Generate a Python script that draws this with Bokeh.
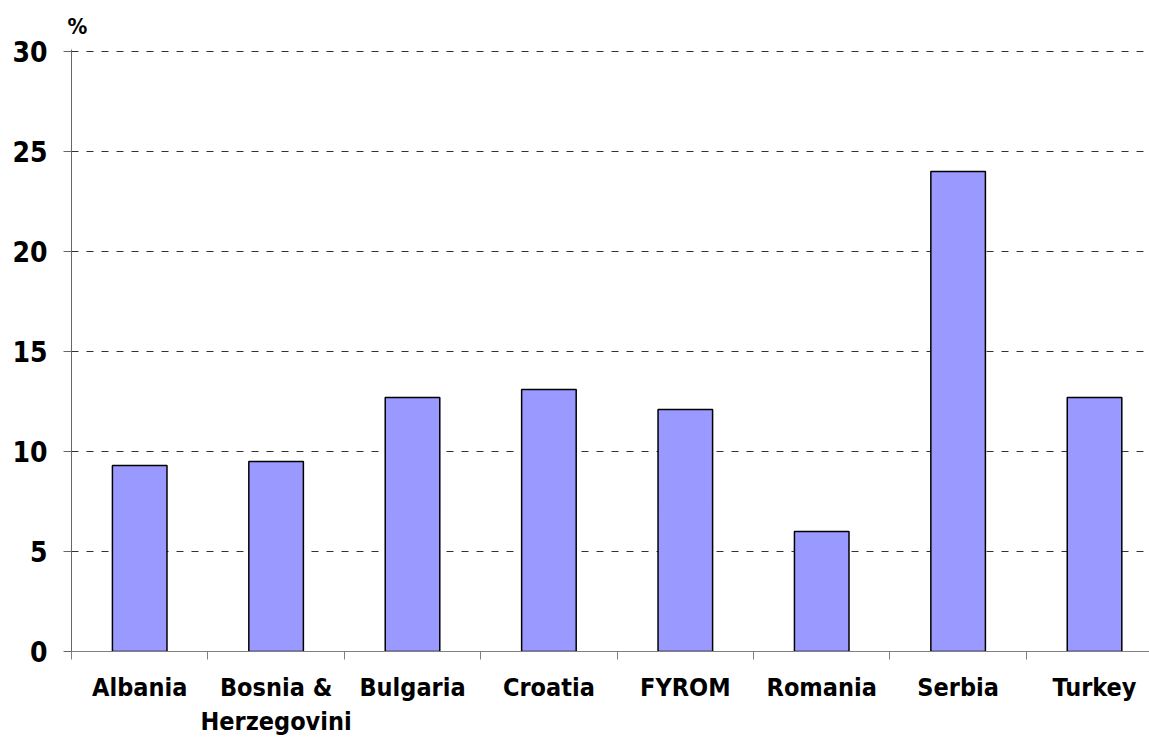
from bokeh.plotting import figure
from bokeh.models import Range1d, FixedTicker, Title
from bokeh.embed import file_html
from bokeh.resources import INLINE

countries = ["Albania", "Bosnia &\nHerzegovini", "Bulgaria", "Croatia", "FYROM", "Romania", "Serbia", "Turkey"]
values = [9.3, 9.5, 12.7, 13.1, 12.1, 6.0, 24.0, 12.7]
y_ticks = [0, 5, 10, 15, 20, 25, 30]
unit_label = "%"

FONT = "DejaVu Sans Condensed"

centers = [i + 0.5 for i in range(len(countries))]
bounds = [i for i in range(len(countries) + 1)]

p = figure(width=1149, height=739, output_backend="svg", toolbar_location=None,
           x_range=Range1d(0, 7.903), y_range=Range1d(0, 30.1),
           min_border_left=71, min_border_top=49, min_border_bottom=88, min_border_right=0)
p.outline_line_color = None
p.background_fill_color = "white"
p.border_fill_color = "white"

p.vbar(x=centers, top=values, width=0.4, fill_color="#9999FF", line_color="black", line_width=1.5)

# x axis
p.xaxis.ticker = FixedTicker(ticks=centers, minor_ticks=bounds)
p.xaxis.major_label_overrides = {c: n for c, n in zip(centers, countries)}
p.xaxis.major_tick_line_color = None
p.xaxis.major_tick_out = 8
p.xaxis.major_tick_in = 0
p.xaxis.minor_tick_out = 8
p.xaxis.minor_tick_in = 0
p.xaxis.minor_tick_line_color = "#808080"
p.xaxis.axis_line_color = "#808080"
p.xaxis.major_label_text_font = FONT
p.xaxis.major_label_text_font_style = "bold"
p.xaxis.major_label_text_font_size = "25px"
p.xaxis.major_label_text_color = "black"
p.xaxis.major_label_standoff = 13

# y axis
p.yaxis.ticker = FixedTicker(ticks=y_ticks)
p.yaxis.major_tick_out = 8
p.yaxis.major_tick_in = 0
p.yaxis.minor_tick_line_color = None
p.yaxis.axis_line_color = "#666666"
p.yaxis.major_tick_line_color = "#666666"
p.yaxis.major_label_text_font = FONT
p.yaxis.major_label_text_font_style = "bold"
p.yaxis.major_label_text_font_size = "28px"
p.yaxis.major_label_text_color = "black"
p.yaxis.major_label_standoff = 16

# grid
p.xgrid.grid_line_color = None
p.ygrid.ticker = FixedTicker(ticks=y_ticks)
p.ygrid.grid_line_color = "#333333"
p.ygrid.grid_line_dash = "7 8"
p.ygrid.grid_line_width = 1

p.add_layout(Title(text=unit_label, align="left", offset=-4, standoff=22,
                   text_font=FONT, text_font_style="bold", text_font_size="22px",
                   text_color="black"), "above")

open("out.html", "w").write(file_html(p, INLINE))
